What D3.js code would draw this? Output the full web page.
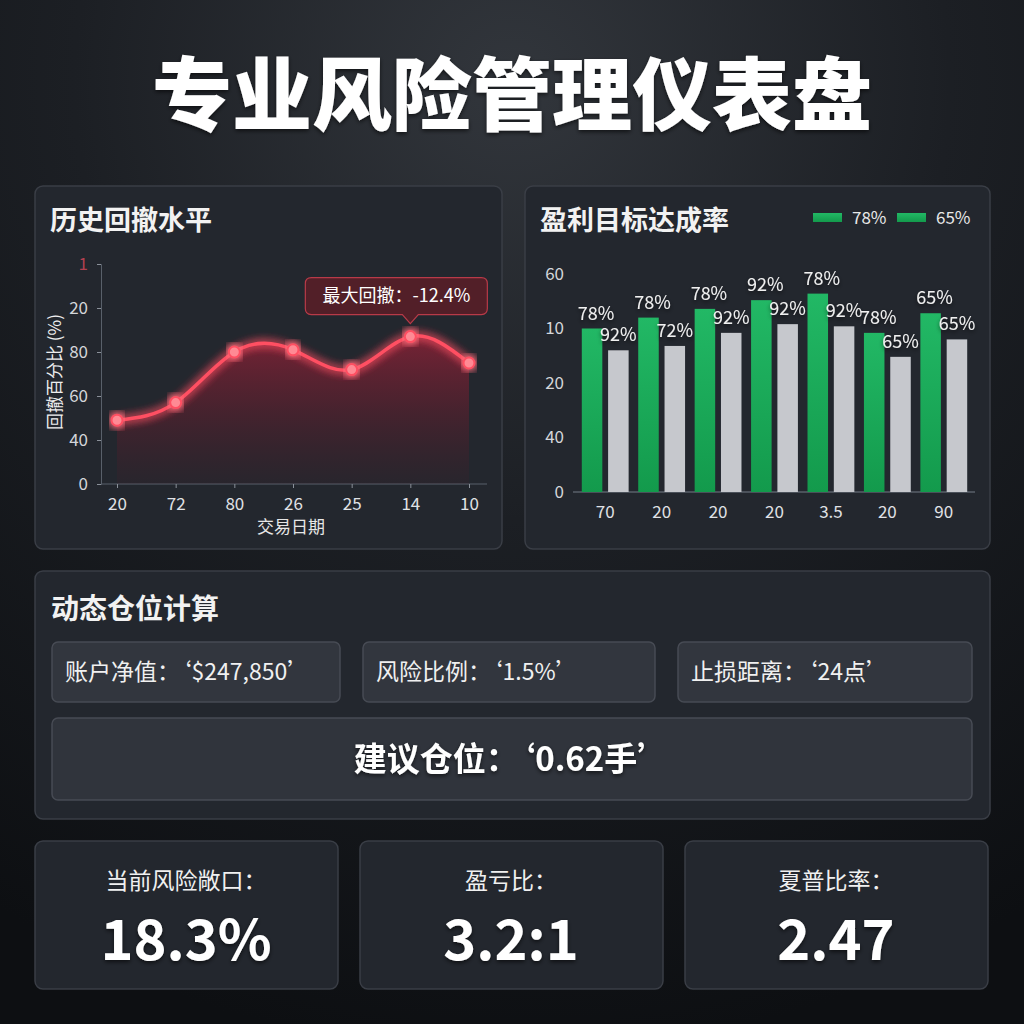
<!DOCTYPE html>
<html><head><meta charset="utf-8">
<script src="https://cdn.jsdelivr.net/npm/d3@7/dist/d3.min.js"></script>
<style>
html,body{margin:0;padding:0;background:#111317;}
svg{display:block;}
text{font-family:"Noto Sans CJK SC","Noto Sans",sans-serif;}
</style></head>
<body>
<svg id="c" width="1024" height="1024"></svg>
<script>
// ---------- data ----------
const pageTitle = "专业风险管理仪表盘";
const drawdownTitle = "历史回撤水平";
const drawdownDates = ["20","72","80","26","25","14","10"];
const drawdownValues = [29, 37, 60, 61, 52, 67, 55];
const drawdownTickValues = [0, 20, 40, 60, 80, 100];
const drawdownTickLabels = ["0","40","60","80","20","1"];
const drawdownMaxLabel = "最大回撤：-12.4%";
const drawdownYTitle = "回撤百分比 (%)";
const drawdownXTitle = "交易日期";

const targetTitle = "盈利目标达成率";
const targetCategories = ["70","20","20","20","3.5","20","90"];
const targetSeriesA = [75, 80, 84, 88, 91, 73, 82];
const targetSeriesB = [65, 67, 73, 77, 76, 62, 70];
const targetLabelsA = ["78%","78%","78%","92%","78%","78%","65%"];
const targetLabelsB = ["92%","72%","92%","92%","92%","65%","65%"];
const targetTickValues = [0, 25, 50, 75, 100];
const targetTickLabels = ["0","40","20","10","60"];
const legendLabels = ["78%","65%"];

const positionTitle = "动态仓位计算";
const positionInputs = ["账户净值：‘$247,850’","风险比例：‘1.5%’","止损距离：‘24点’"];
const positionResult = "建议仓位：‘0.62手’";

const kpiLabels = ["当前风险敞口：","盈亏比：","夏普比率："];
const kpiValues = ["18.3%","3.2:1","2.47"];

// ---------- drawing ----------
const svg = d3.select("#c");
const defs = svg.append("defs");

const bg = defs.append("radialGradient").attr("id","bg").attr("cx","50%").attr("cy","8%").attr("r","95%");
bg.append("stop").attr("offset","0%").attr("stop-color","#32363c");
bg.append("stop").attr("offset","45%").attr("stop-color","#1c1f24");
bg.append("stop").attr("offset","100%").attr("stop-color","#0d0f12");
svg.append("rect").attr("width",1024).attr("height",1024).attr("fill","url(#bg)");

const glow = defs.append("filter").attr("id","glow").attr("x","-20%").attr("y","-40%").attr("width","140%").attr("height","180%");
glow.append("feGaussianBlur").attr("in","SourceGraphic").attr("stdDeviation",5).attr("result","b");
const gm = glow.append("feMerge");
gm.append("feMergeNode").attr("in","b");
gm.append("feMergeNode").attr("in","b");
gm.append("feMergeNode").attr("in","SourceGraphic");

const shadow = defs.append("filter").attr("id","tshadow").attr("x","-10%").attr("y","-20%").attr("width","120%").attr("height","150%");
shadow.append("feDropShadow").attr("dx",0).attr("dy",2).attr("stdDeviation",2).attr("flood-color","#000").attr("flood-opacity",0.6);

const areaGrad = defs.append("linearGradient").attr("id","area").attr("x1",0).attr("y1",0).attr("x2",0).attr("y2",1);
areaGrad.append("stop").attr("offset","0%").attr("stop-color","#b0203a").attr("stop-opacity",0.6);
areaGrad.append("stop").attr("offset","100%").attr("stop-color","#6a1424").attr("stop-opacity",0.08);

const greenGrad = defs.append("linearGradient").attr("id","green").attr("x1",0).attr("y1",0).attr("x2",0).attr("y2",1);
greenGrad.append("stop").attr("offset","0%").attr("stop-color","#22b865");
greenGrad.append("stop").attr("offset","100%").attr("stop-color","#139a4c");

function panel(x,y,w,h,fill,stroke,r){
  svg.append("rect").attr("x",x).attr("y",y).attr("width",w).attr("height",h).attr("rx",r||8)
    .attr("fill",fill||"#23272e").attr("stroke",stroke||"#3a3e46").attr("stroke-width",1.5);
}

// page title
svg.append("text").attr("x",512).attr("y",124).attr("text-anchor","middle")
  .attr("font-size",80).attr("font-weight",900).attr("fill","#ffffff").attr("filter","url(#tshadow)")
  .text(pageTitle);

// ---------- panel 1: drawdown line ----------
panel(35,186,467,363);
svg.append("text").attr("x",50).attr("y",230).attr("font-size",27).attr("font-weight",700).attr("fill","#f2f2f2").text(drawdownTitle);

const x1 = d3.scalePoint().domain(d3.range(drawdownDates.length)).range([117,469]);
const y1 = d3.scaleLinear().domain([0,100]).range([484,264]);

const g1 = svg.append("g");
const yAx = g1.append("g").attr("transform","translate(101,0)")
  .call(d3.axisLeft(y1).tickValues(drawdownTickValues).tickSize(4).tickPadding(9)
    .tickFormat((d,i)=>drawdownTickLabels[i]));
yAx.select(".domain").attr("stroke","#59606a");
yAx.selectAll(".tick line").attr("stroke","#8a9099");
yAx.selectAll(".tick text").attr("fill","#d4d6da").attr("font-size",17)
  .attr("font-family","'Noto Sans','DejaVu Sans',sans-serif");
yAx.selectAll(".tick text").filter((d,i)=>i===drawdownTickValues.length-1).attr("fill","#b04050");

const xAx = g1.append("g").attr("transform","translate(0,484)")
  .call(d3.axisBottom(x1).tickSize(4).tickPadding(10).tickFormat(i=>drawdownDates[i]));
xAx.select(".domain").attr("d","M101,0H487").attr("stroke","#59606a");
xAx.selectAll(".tick line").attr("stroke","#8a9099");
xAx.selectAll(".tick text").attr("fill","#e0e2e6").attr("font-size",17)
  .attr("font-family","'Noto Sans','DejaVu Sans',sans-serif");

svg.append("text").attr("transform","translate(61,372) rotate(-90)").attr("text-anchor","middle")
  .attr("font-size",17).attr("fill","#eeeeee").text(drawdownYTitle);
svg.append("text").attr("x",291).attr("y",533).attr("text-anchor","middle")
  .attr("font-size",17).attr("fill","#e6e6e6").text(drawdownXTitle);

const area = d3.area().x((d,i)=>x1(i)).y0(y1(0)).y1(d=>y1(d)).curve(d3.curveNatural);
const line = d3.line().x((d,i)=>x1(i)).y(d=>y1(d)).curve(d3.curveNatural);
g1.append("path").datum(drawdownValues).attr("d",area).attr("fill","url(#area)");
g1.append("path").datum(drawdownValues).attr("d",line).attr("fill","none")
  .attr("stroke","#ff4f62").attr("stroke-width",3.5).attr("filter","url(#glow)");
g1.selectAll("circle.pt").data(drawdownValues).join("circle").attr("class","pt")
  .attr("cx",(d,i)=>x1(i)).attr("cy",d=>y1(d)).attr("r",5.5)
  .attr("fill","#ff8a94").attr("stroke","#ff4f62").attr("stroke-width",2).attr("filter","url(#glow)");

// tooltip at max
const maxI = drawdownValues.indexOf(d3.max(drawdownValues));
const tx = x1(maxI), ty = y1(drawdownValues[maxI]);
const tip = g1.append("g");
const tw = 182, th = 37, tipY = ty - 13, tb = tipY - 9, tl = tx - 105, r = 6;
tip.append("path")
  .attr("d",`M${tl+r},${tb-th} H${tl+tw-r} Q${tl+tw},${tb-th} ${tl+tw},${tb-th+r} V${tb-r} Q${tl+tw},${tb} ${tl+tw-r},${tb} H${tx+8} L${tx},${tipY} L${tx-8},${tb} H${tl+r} Q${tl},${tb} ${tl},${tb-r} V${tb-th+r} Q${tl},${tb-th} ${tl+r},${tb-th} Z`)
  .attr("fill","#5a1f27").attr("fill-opacity",0.85).attr("stroke","#b83a48").attr("stroke-width",1.2);
tip.append("text").attr("x",tl+tw/2).attr("y",tb-th/2+6).attr("text-anchor","middle")
  .attr("font-size",18).attr("fill","#ffffff").text(drawdownMaxLabel);

// ---------- panel 2: target bars ----------
panel(525,186,465,363);
svg.append("text").attr("x",540).attr("y",230).attr("font-size",27).attr("font-weight",700).attr("fill","#f2f2f2").text(targetTitle);

// legend
const legColors = ["url(#green)","url(#green)"];
const legX = [813, 897];
legendLabels.forEach((l,i)=>{
  svg.append("rect").attr("x",legX[i]).attr("y",213).attr("width",29).attr("height",9).attr("fill",legColors[i]);
  svg.append("text").attr("x",legX[i]+39).attr("y",224).attr("font-size",17).attr("fill","#e8e8e8")
    .attr("font-family","'Noto Sans',sans-serif").text(l);
});

const x2 = d3.scaleBand().domain(d3.range(targetCategories.length)).range([577,972]).paddingInner(0.17).paddingOuter(0.085);
const xs = d3.scaleBand().domain(["a","b"]).range([0,x2.bandwidth()]).paddingInner(0.22);
const y2 = d3.scaleLinear().domain([0,100]).range([492,274]);

const g2 = svg.append("g");
const yAx2 = g2.append("g").attr("transform","translate(573,0)")
  .call(d3.axisLeft(y2).tickValues(targetTickValues).tickSize(0).tickPadding(9).tickFormat((d,i)=>targetTickLabels[i]));
yAx2.select(".domain").remove();
yAx2.selectAll(".tick text").attr("fill","#d4d6da").attr("font-size",17).attr("font-family","'Noto Sans',sans-serif");

const xAx2 = g2.append("g").attr("transform","translate(0,492)")
  .call(d3.axisBottom(x2).tickSize(0).tickPadding(14).tickFormat(i=>targetCategories[i]));
xAx2.select(".domain").attr("d","M573,0H975").attr("stroke","#5a606a").attr("stroke-width",1.5);
xAx2.selectAll(".tick text").attr("fill","#e0e2e6").attr("font-size",17).attr("font-family","'Noto Sans',sans-serif");

const grp = g2.selectAll("g.grp").data(targetCategories.map((c,i)=>i)).join("g").attr("class","grp")
  .attr("transform",i=>`translate(${x2(i)},0)`);
grp.append("rect").attr("x",xs("a")).attr("width",xs.bandwidth())
  .attr("y",i=>y2(targetSeriesA[i])).attr("height",i=>y2(0)-y2(targetSeriesA[i])).attr("fill","url(#green)");
grp.append("rect").attr("x",xs("b")).attr("width",xs.bandwidth())
  .attr("y",i=>y2(targetSeriesB[i])).attr("height",i=>y2(0)-y2(targetSeriesB[i])).attr("fill","#c6c8cd");
grp.append("text").attr("x",xs("a")+xs.bandwidth()/2+4).attr("y",i=>y2(targetSeriesA[i])-9)
  .attr("text-anchor","middle").attr("font-size",18).attr("fill","#f0f0f0").attr("filter","url(#tshadow)")
  .attr("font-family","'Noto Sans',sans-serif").text(i=>targetLabelsA[i]);
grp.append("text").attr("x",xs("b")+xs.bandwidth()/2).attr("y",i=>y2(targetSeriesB[i])-9)
  .attr("text-anchor","middle").attr("font-size",18).attr("fill","#f0f0f0").attr("filter","url(#tshadow)")
  .attr("font-family","'Noto Sans',sans-serif").text(i=>targetLabelsB[i]);

// ---------- panel 3: position calc ----------
panel(35,571,955,248);
svg.append("text").attr("x",51).attr("y",619).attr("font-size",28).attr("font-weight",700).attr("fill","#f2f2f2").text(positionTitle);
const boxX = [52, 363, 678], boxW = [288, 292, 294];
positionInputs.forEach((t,i)=>{
  panel(boxX[i],642,boxW[i],60,"#32363e","#474b54",6);
  svg.append("text").attr("x",boxX[i]+13).attr("y",680).attr("font-size",23).attr("fill","#f0f0f0").text(t);
});
panel(52,718,920,82,"#30343c","#474b54",6);
svg.append("text").attr("x",512).attr("y",771).attr("text-anchor","middle").attr("font-size",33)
  .attr("font-weight",700).attr("fill","#ffffff").attr("filter","url(#tshadow)").text(positionResult);

// ---------- KPI cards ----------
const cardX = [35, 360, 685];
kpiLabels.forEach((l,i)=>{
  panel(cardX[i],841,303,148,"#23272e","#3a3e46",8);
  svg.append("text").attr("x",cardX[i]+151).attr("y",889).attr("text-anchor","middle").attr("font-size",23)
    .attr("fill","#f0f0f0").text(l);
  svg.append("text").attr("x",cardX[i]+151).attr("y",960).attr("text-anchor","middle").attr("font-size",56)
    .attr("font-weight",700).attr("fill","#ffffff").attr("filter","url(#tshadow)")
    .attr("font-family","'Noto Sans','Open Sans',sans-serif").text(kpiValues[i]);
});
</script>
</body></html>
